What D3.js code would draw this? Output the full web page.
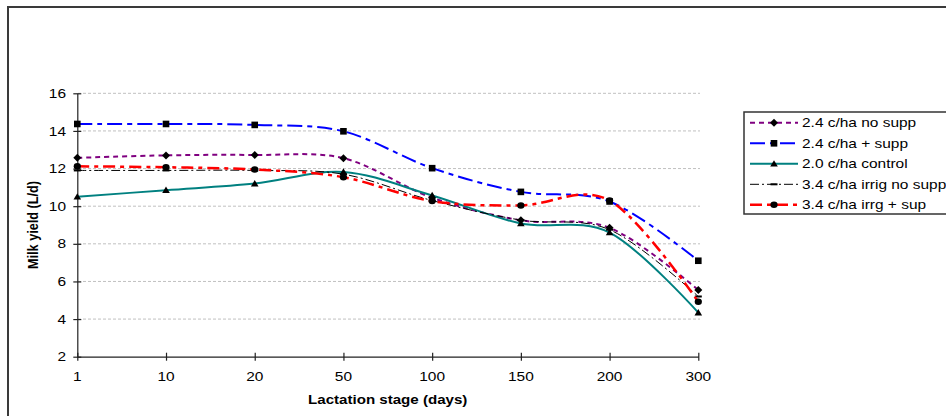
<!DOCTYPE html>
<html>
<head>
<meta charset="utf-8">
<script src="https://cdn.jsdelivr.net/npm/d3@7"></script>
<style>
  html, body { margin: 0; padding: 0; background: #fff; }
  svg { display: block; font-family: "Liberation Sans", Arial, sans-serif; }
</style>
</head>
<body>
<svg id="chart" width="946" height="416"></svg>
<script>
// ---- data ----
const categories = ["1", "10", "20", "50", "100", "150", "200", "300"];
const yTicks = [2, 4, 6, 8, 10, 12, 14, 16];
const seriesNames = ["2.4 c/ha no supp", "2.4 c/ha + supp", "2.0 c/ha control", "3.4 c/ha irrig  no supp", "3.4 c/ha irrg + sup"];
const noSupp24      = [12.57, 12.70, 12.72, 12.55, 10.45, 9.25, 8.85, 5.54];
const supp24        = [14.37, 14.37, 14.32, 13.98, 12.02, 10.76, 10.25, 7.10];
const control20     = [10.50, 10.85, 11.20, 11.82, 10.57, 9.08, 8.60, 4.34];
const irrigNoSupp34 = [11.90, 11.90, 11.90, 11.70, 10.30, 9.26, 8.75, 5.20];
const irrgSup34     = [12.12, 12.07, 11.95, 11.54, 10.27, 10.04, 10.30, 4.92];
const xTitle = "Lactation stage (days)";
const yTitle = "Milk yield (L/d)";

// ---- styles ----
const styles = [
  { color: "#800080", width: 2,   dash: "5,4",        marker: "diamond" },
  { color: "#0000FF", width: 2,   dash: "15,5,5,5",   marker: "square" },
  { color: "#008080", width: 2,   dash: null,         marker: "triangle" },
  { color: "#000000", width: 1,   dash: "9,3,2,3",    marker: "dash" },
  { color: "#FF0000", width: 2.5, dash: "12,5,4,5",   marker: "circle" }
];
const allSeries = [noSupp24, supp24, control20, irrigNoSupp34, irrgSup34];
const SX = 1.19; // horizontal text stretch

const svg = d3.select("#chart");
svg.append("rect").attr("width", 946).attr("height", 416).attr("fill", "#fff");
// outer chart border
svg.append("rect").attr("x", 8).attr("y", 7).attr("width", 1200).attr("height", 600)
  .attr("fill", "none").attr("stroke", "#3a3a3a").attr("stroke-width", 2);

const x = d3.scalePoint().domain(categories).range([77.3, 698.3]).padding(0);
const y = d3.scaleLinear().domain([2, 16]).range([356.7, 93.3]);

// gridlines
svg.append("g").selectAll("line").data(yTicks.filter(d => d > 2)).join("line")
  .attr("x1", 78).attr("x2", 700)
  .attr("y1", d => y(d)).attr("y2", d => y(d))
  .attr("stroke", "#c0c0c0").attr("stroke-width", 1).attr("stroke-dasharray", "3,2");

// axes
const yAxis = svg.append("g").attr("transform", `translate(${x(categories[0])},0)`)
  .call(d3.axisLeft(y).tickValues(yTicks).tickSize(4).tickSizeOuter(0).tickFormat(""));
yAxis.selectAll(".tick line").attr("x1", 4).attr("x2", -4);
const xAxis = svg.append("g").attr("transform", `translate(0,${y(2)})`)
  .call(d3.axisBottom(x).tickSize(4).tickSizeOuter(0).tickFormat(""));
xAxis.selectAll(".tick line").attr("y1", -4).attr("y2", 4);
svg.selectAll(".domain").attr("stroke", "#222").attr("stroke-width", 1.2);
svg.selectAll(".tick line").attr("stroke", "#222").attr("stroke-width", 1.2);

function stretchedText(g, tx, ty, txt, opts) {
  return g.append("text")
    .attr("transform", `translate(${tx},${ty}) scale(${SX},1)`)
    .attr("text-anchor", opts.anchor || "start")
    .attr("font-size", opts.size || 13)
    .attr("font-weight", opts.bold ? "bold" : "normal")
    .attr("fill", "#000")
    .text(txt);
}

const labels = svg.append("g");
yTicks.forEach(v => stretchedText(labels, 66, y(v) + 4.6, String(v), { anchor: "end", size: 13 }));
categories.forEach(c => stretchedText(labels, x(c), 381.3, c, { anchor: "middle", size: 13 }));
stretchedText(labels, 387.7, 403.5, xTitle, { anchor: "middle", size: 12.7, bold: true });
svg.append("text")
  .attr("transform", `translate(37.8,225) scale(${SX},1) rotate(-90)`)
  .attr("text-anchor", "middle").attr("font-size", 12.7).attr("font-weight", "bold")
  .text(yTitle);

// markers
function drawMarker(g, type, cx, cy) {
  if (type === "diamond") {
    g.append("path").attr("d", `M${cx},${cy - 4}L${cx + 4},${cy}L${cx},${cy + 4}L${cx - 4},${cy}Z`).attr("fill", "#000");
  } else if (type === "square") {
    g.append("rect").attr("x", cx - 3.3).attr("y", cy - 3.3).attr("width", 6.6).attr("height", 6.6).attr("fill", "#000");
  } else if (type === "triangle") {
    g.append("path").attr("d", `M${cx},${cy - 3.6}L${cx + 3.8},${cy + 2.8}L${cx - 3.8},${cy + 2.8}Z`).attr("fill", "#000");
  } else if (type === "dash") {
    g.append("rect").attr("x", cx - 3.5).attr("y", cy - 1).attr("width", 7).attr("height", 2).attr("fill", "#000");
  } else if (type === "circle") {
    g.append("ellipse").attr("cx", cx).attr("cy", cy).attr("rx", 3.6).attr("ry", 3.2).attr("fill", "#000");
  }
}

const line = d3.line()
  .x((d, i) => x(categories[i]))
  .y(d => y(d))
  .curve(d3.curveCardinal.tension(0));

const plot = svg.append("g");
allSeries.forEach((vals, si) => {
  const st = styles[si];
  const g = plot.append("g");
  g.append("path").datum(vals).attr("d", line)
    .attr("fill", "none").attr("stroke", st.color).attr("stroke-width", st.width)
    .attr("stroke-dasharray", st.dash).attr("stroke-linecap", "butt");
  vals.forEach((v, i) => drawMarker(g, st.marker, x(categories[i]), y(v)));
});

// legend
const lg = svg.append("g");
lg.append("rect").attr("x", 744).attr("y", 112).attr("width", 400).attr("height", 102)
  .attr("fill", "#fff").attr("stroke", "#333").attr("stroke-width", 1.5);
seriesNames.forEach((name, i) => {
  const st = styles[i];
  const ry = 122.8 + i * 20.5;
  lg.append("line").attr("x1", 750).attr("x2", 798).attr("y1", ry).attr("y2", ry)
    .attr("stroke", st.color).attr("stroke-width", st.width).attr("stroke-dasharray", st.dash);
  drawMarker(lg, st.marker, 774, ry);
  stretchedText(lg, 802, ry + 4.6, name, { anchor: "start", size: 13 });
});
</script>
</body>
</html>
